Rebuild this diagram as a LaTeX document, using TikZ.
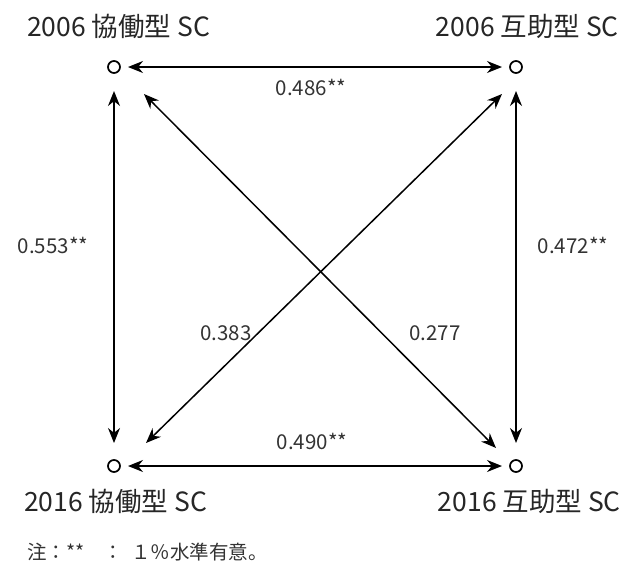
\documentclass[tikz,border=0pt]{standalone}
\usepackage{fontspec}
\setmainfont{Noto Sans CJK JP}
\usetikzlibrary{arrows.meta}
\begin{document}
\begin{tikzpicture}[x=1pt,y=-1pt,
  var/.style={circle,draw,line width=1.7pt,minimum size=12pt,inner sep=0pt},
  lab/.style={font=\fontsize{26.5}{29}\selectfont,inner sep=0pt,text=black!85},
  coef/.style={font=\fontsize{20.5}{22}\selectfont,inner sep=0pt,text=black!80},
  conn/.style={line width=1.5pt,{Stealth[length=15pt,width=12pt]}-{Stealth[length=15pt,width=12pt]}}]
\useasboundingbox (0,0) rectangle (629,581);
\node[var] (a) at (114,67) {};
\node[var] (b) at (516,67) {};
\node[var] (c) at (114,466) {};
\node[var] (d) at (516,466) {};
\node[lab,anchor=west] (la) at (27,26) {2006 協働型 SC};
\node[lab,anchor=east] (lb) at (619,26) {2006 互助型 SC};
\node[lab,anchor=west] (lc) at (24,501) {2016 協働型 SC};
\node[lab,anchor=east] (ld) at (621,501) {2016 互助型 SC};
\draw[conn] ([xshift=14pt]a.center) -- ([xshift=-14pt]b.center);
\draw[conn] ([xshift=14pt]c.center) -- ([xshift=-14pt]d.center);
\draw[conn] ([yshift=-24pt]a.center) -- ([yshift=23pt]c.center);
\draw[conn] ([yshift=-24pt]b.center) -- ([yshift=23pt]d.center);
\draw[conn] ([shift={(30pt,-27pt)}]a.center) -- ([shift={(-20pt,18pt)}]d.center);
\draw[conn] ([shift={(-14pt,-27pt)}]b.center) -- ([shift={(32pt,23pt)}]c.center);
\node[coef] (k0) at (311,87) {0.486**};
\node[coef] (k5) at (312,441) {0.490**};
\node[coef] (k1) at (53,245) {0.553**};
\node[coef] (k2) at (573,245) {0.472**};
\node[coef] (k3) at (226,333) {0.383};
\node[coef] (k4) at (435,333) {0.277};
\node[font=\fontsize{19.5}{22}\selectfont,inner sep=0pt,anchor=west,text=black!80] (note) at (27,552) {注：**\hspace{1em}：\hspace{0.4em}１％水準有意。};
\end{tikzpicture}
\end{document}
